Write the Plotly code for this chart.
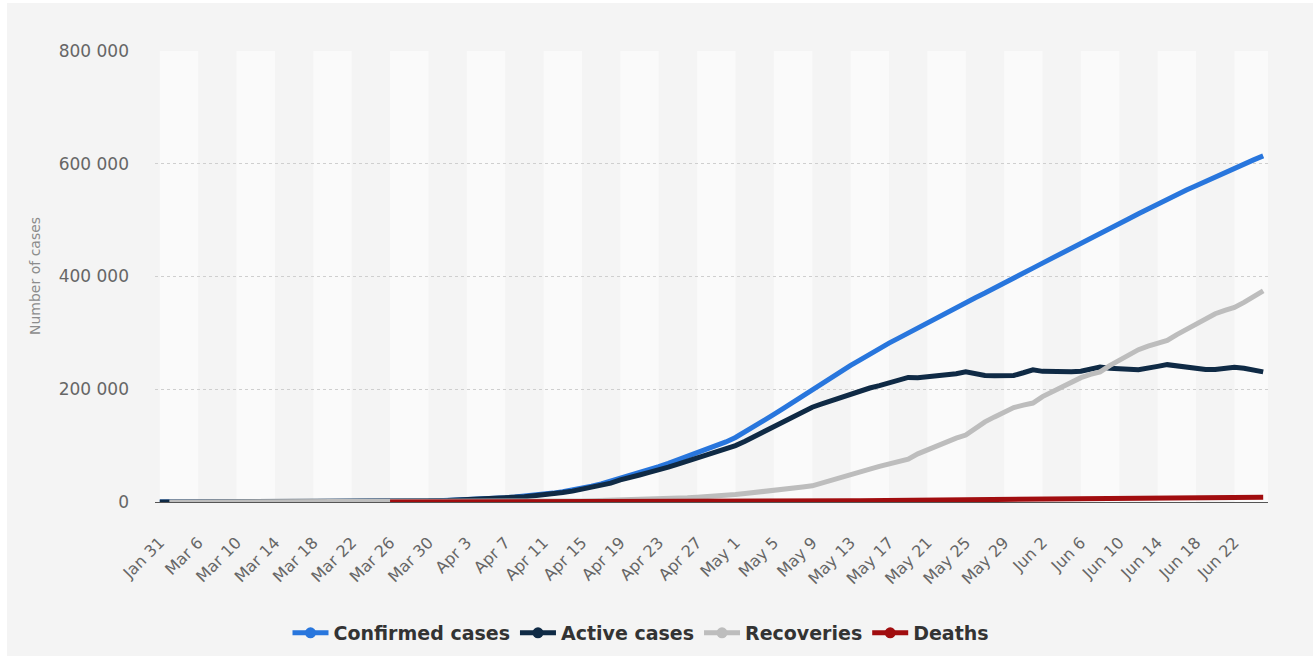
import plotly.graph_objects as go

categories = [
    "Jan 31", "Mar 3", "Mar 4", "Mar 5",
    "Mar 6", "Mar 7", "Mar 8", "Mar 9", "Mar 10", "Mar 11", "Mar 12", "Mar 13", "Mar 14", "Mar 15",
    "Mar 16", "Mar 17", "Mar 18", "Mar 19", "Mar 20", "Mar 21", "Mar 22", "Mar 23", "Mar 24", "Mar 25",
    "Mar 26", "Mar 27", "Mar 28", "Mar 29", "Mar 30", "Mar 31",
    "Apr 1", "Apr 2", "Apr 3", "Apr 4", "Apr 5", "Apr 6", "Apr 7", "Apr 8", "Apr 9", "Apr 10",
    "Apr 11", "Apr 12", "Apr 13", "Apr 14", "Apr 15", "Apr 16", "Apr 17", "Apr 18", "Apr 19", "Apr 20",
    "Apr 21", "Apr 22", "Apr 23", "Apr 24", "Apr 25", "Apr 26", "Apr 27", "Apr 28", "Apr 29", "Apr 30",
    "May 1", "May 2", "May 3", "May 4", "May 5", "May 6", "May 7", "May 8", "May 9", "May 10",
    "May 11", "May 12", "May 13", "May 14", "May 15", "May 16", "May 17", "May 18", "May 19", "May 20",
    "May 21", "May 22", "May 23", "May 24", "May 25", "May 26", "May 27", "May 28", "May 29", "May 30", "May 31",
    "Jun 1", "Jun 2", "Jun 3", "Jun 4", "Jun 5", "Jun 6", "Jun 7", "Jun 8", "Jun 9", "Jun 10",
    "Jun 11", "Jun 12", "Jun 13", "Jun 14", "Jun 15", "Jun 16", "Jun 17", "Jun 18", "Jun 19", "Jun 20",
    "Jun 21", "Jun 22", "Jun 23", "Jun 24", "Jun 25",
]

tick_labels = [
    "Jan 31", "Mar 6", "Mar 10", "Mar 14", "Mar 18", "Mar 22", "Mar 26", "Mar 30",
    "Apr 3", "Apr 7", "Apr 11", "Apr 15", "Apr 19", "Apr 23", "Apr 27",
    "May 1", "May 5", "May 9", "May 13", "May 17", "May 21", "May 25", "May 29",
    "Jun 2", "Jun 6", "Jun 10", "Jun 14", "Jun 18", "Jun 22",
]

confirmed = [
    2, 3, 3, 4,
    10, 10, 17, 17, 20, 28, 34, 45, 59, 63,
    93, 114, 147, 199, 253, 306, 367, 438, 495, 658,
    840, 1036, 1264, 1534, 1836, 2337,
    2777, 3548, 4149, 4731, 5389, 6343, 7497, 8672, 10131, 11917,
    13584, 15770, 18328, 21102, 24490, 27938, 32008, 36793, 42853, 47121,
    52763, 57999, 62773, 68622, 74588, 80949, 87147, 93558, 99399, 106498,
    114431, 124054, 134686, 145268, 155370, 165929, 177160, 187859, 198676, 209688,
    221344, 232243, 242271, 252245, 262843, 272043, 281752, 290678, 299941, 308705,
    317554, 326448, 335882, 344481, 353427, 362342, 370680, 379051, 387623, 396575, 405843,
    414878, 423741, 432277, 440538, 449256, 458102, 467073, 476043, 485253, 493657,
    502436, 511423, 520129, 528964, 537210, 545458, 553301, 561091, 569063, 576952,
    584680, 592280, 599705, 606881, 613994,
]

active = [
    2, 1, 1, 2,
    8, 8, 15, 15, 18, 25, 31, 42, 56, 60,
    88, 109, 142, 189, 240, 293, 350, 421, 472, 626,
    799, 987, 1211, 1462, 1761, 2199,
    2563, 3283, 3834, 4355, 4989, 5890, 6945, 8029, 9357, 10993,
    12433, 14349, 16710, 19238, 22306, 25402, 29145, 33477, 39201, 42843,
    47887, 52595, 56650, 61757, 67140, 72856, 77897, 83385, 88141, 93806,
    100042, 107819, 116767, 125817, 134054, 143065, 151732, 159528, 168157, 173927,
    179534, 186615, 192056, 196410, 202199, 206340, 211748, 217747, 220974, 220341,
    221774, 224374, 224558, 227641, 230996, 227406, 224504, 223916, 223992, 224551, 229267,
    234509, 231719, 231105, 230531, 231056, 231853, 234942, 239384, 237194, 235552,
    235680, 234510, 236800, 240516, 243629, 241184, 239833, 237441, 235232, 234958,
    236569, 239074, 237346, 234368, 230832,
]

recoveries = [
    None, 2, 2, 2,
    2, 2, 2, 2, 2, 3, 3, 3, 3, 3,
    5, 5, 5, 9, 12, 12, 16, 16, 22, 29,
    38, 45, 49, 64, 66, 121,
    190, 235, 281, 333, 355, 406, 494, 580, 698, 830,
    1045, 1291, 1470, 1694, 1986, 2304, 2590, 3003, 3291, 3873,
    4420, 4891, 5568, 6250, 6767, 7346, 8456, 9306, 10286, 11619,
    13220, 15013, 16639, 18095, 19865, 21327, 23803, 26608, 28692, 33846,
    39801, 43512, 48003, 53530, 58226, 63166, 67373, 70209, 76130, 85392,
    92681, 98825, 107936, 113299, 118798, 131129, 142208, 150993, 159257, 167469, 171883,
    175514, 186985, 195957, 204623, 212680, 220524, 226272, 230688, 241917, 251747,
    260224, 270198, 276500, 281500, 286500, 297000, 306000, 316000, 326000, 334000,
    340000, 345000, 354000, 364000, 374557,
]

deaths = [
    None, None, None, None,
    None, None, None, None, None, None, None, None, None, None,
    None, None, None, None, None, None, None, None, None, None,
    3, 4, 4, 8, 9, 17,
    24, 30, 34, 43, 45, 47, 58, 63, 76, 94,
    106, 130, 148, 170, 198, 232, 273, 313, 361, 405,
    456, 513, 555, 615, 681, 747, 794, 867, 972, 1073,
    1169, 1222, 1280, 1356, 1451, 1537, 1625, 1723, 1827, 1915,
    2009, 2116, 2212, 2305, 2418, 2537, 2631, 2722, 2837, 2972,
    3099, 3249, 3388, 3541, 3633, 3807, 3968, 4142, 4374, 4555, 4693,
    4855, 5037, 5215, 5384, 5520, 5725, 5859, 5971, 6142, 6358,
    6532, 6715, 6829, 6948, 7081, 7274, 7468, 7650, 7831, 7994,
    8111, 8206, 8359, 8513, 8605,
]

series_names = ["Confirmed cases", "Active cases", "Recoveries", "Deaths"]
series_colors = ["#2876dd", "#0f2a45", "#bdbdbd", "#a10d0f"]
series_values = [confirmed, active, recoveries, deaths]

y_tick_vals = [0, 200000, 400000, 600000, 800000]
y_tick_text = ["0", "200 000", "400 000", "600 000", "800 000"]

W, H = 1316, 659
ML, MR, MT, MB = 155, 48, 51, 157
PW = W - ML - MR
PH = H - MT - MB


def px_x(p):
    return (p - ML) / PW


def px_y(p):
    return (H - MB - p) / PH


fig = go.Figure()

for name, color, vals in zip(series_names, series_colors, series_values):
    fig.add_trace(go.Scatter(
        x=categories, y=vals, name=name, mode="lines",
        line=dict(color=color, width=5), showlegend=False,
        connectgaps=False, hoverinfo="x+y+name",
    ))

for name, color in zip(series_names, series_colors):
    fig.add_trace(go.Scatter(
        x=[None], y=[None], name=name, mode="lines+markers",
        line=dict(color=color, width=5),
        marker=dict(color=color, size=11, symbol="circle"),
        showlegend=True,
    ))

shapes = [
    dict(type="rect", xref="paper", yref="paper",
         x0=px_x(7), x1=px_x(1313), y0=px_y(656), y1=px_y(3),
         fillcolor="#f4f4f4", line=dict(width=0), layer="below"),
]
n = len(categories)
for start in range(0, n, 8):
    shapes.append(dict(
        type="rect", xref="x", yref="paper",
        x0=start, x1=min(start + 4, n - 0.5), y0=0, y1=1,
        fillcolor="#fafafa", line=dict(width=0), layer="below",
    ))

fig.update_layout(
    width=W, height=H,
    margin=dict(l=ML, r=MR, t=MT, b=MB, pad=0, autoexpand=False),
    paper_bgcolor="#ffffff",
    plot_bgcolor="#f4f4f4",
    font=dict(family="DejaVu Sans", color="#666666"),
    shapes=shapes,
    showlegend=True,
    legend=dict(
        orientation="h",
        xref="container", yref="container",
        x=641 / W, xanchor="center",
        y=1 - 633 / H, yanchor="middle",
        font=dict(family="DejaVu Sans", size=19, color="#333333", weight="bold"),
        bgcolor="rgba(0,0,0,0)", itemwidth=36, traceorder="normal",
    ),
    annotations=[
        dict(text="Number of cases", xref="paper", yref="paper",
             x=px_x(35), y=px_y(276), textangle=-90, showarrow=False,
             font=dict(family="DejaVu Sans", size=14, color="#8c8c8c"),
             xanchor="center", yanchor="middle"),
    ],
)

fig.update_xaxes(
    type="category",
    categoryorder="array", categoryarray=categories,
    range=[-0.5, n - 0.5],
    tickmode="array", tickvals=tick_labels, ticktext=tick_labels,
    tickangle=-45,
    tickfont=dict(family="DejaVu Sans", size=16, color="#666666"),
    ticks="", ticklabelstandoff=24,
    showgrid=False, zeroline=False,
    showline=True, linecolor="#555555", linewidth=1,
)

fig.update_yaxes(
    range=[0, 800000],
    tickmode="array", tickvals=y_tick_vals, ticktext=y_tick_text,
    tickfont=dict(family="DejaVu Sans", size=17, color="#666666"),
    ticks="", ticklabelstandoff=25,
    showgrid=True, gridcolor="#cfcfcf", gridwidth=1, griddash="dot",
    zeroline=False, showline=False,
)

fig.write_html(
    "out.html",
    config={"displayModeBar": False},
    post_script="document.body.style.margin='0';document.body.style.overflow='hidden';",
)
